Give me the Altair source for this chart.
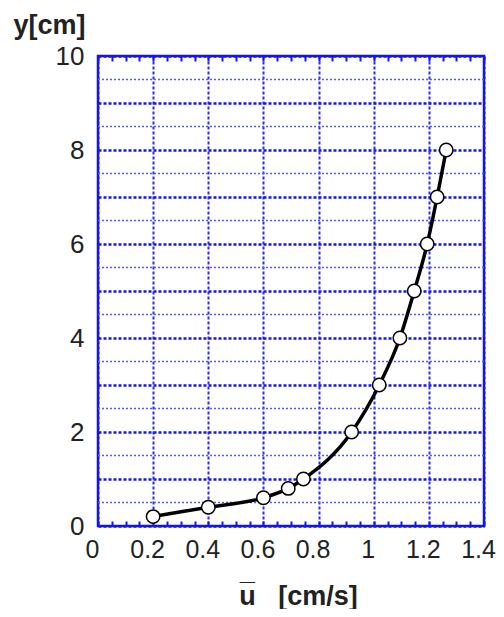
import altair as alt
import pandas as pd

# data
u_vals = [0.20, 0.40, 0.60, 0.69, 0.745, 0.92, 1.02, 1.095, 1.147, 1.194, 1.23, 1.263]
y_vals = [0.2, 0.4, 0.6, 0.8, 1.0, 2.0, 3.0, 4.0, 5.0, 6.0, 7.0, 8.0]

x_major = [0, 0.2, 0.4, 0.6, 0.8, 1.0, 1.2, 1.4]
x_minor = [round(i * 0.05, 2) for i in range(29)]
y_major = [0, 1, 2, 3, 4, 5, 6, 7, 8, 9, 10]
y_half = [0.5, 1.5, 2.5, 3.5, 4.5, 5.5, 6.5, 7.5, 8.5, 9.5]

df = pd.DataFrame({"u": u_vals, "y": y_vals})
half_df = pd.DataFrame({"y": y_half})

BLUE = "#1414f0"
LBLUE = "#5858ff"
FONT = "Liberation Sans"

xs = alt.Scale(domain=[0, 1.4], nice=False, zero=False)
ys = alt.Scale(domain=[0, 10], nice=False, zero=False)

base = alt.Chart(df)

half_grid = alt.Chart(half_df).mark_rule(
    color=LBLUE, strokeWidth=1.6, strokeDash=[2, 2]
).encode(
    y=alt.Y("y:Q", scale=ys, axis=None),
)

line = base.mark_line(color="black", strokeWidth=3.5, interpolate="monotone").encode(
    x=alt.X("u:Q", scale=xs, axis=alt.Axis(
        orient="bottom", values=x_major, format="~g", domain=False, ticks=False,
        grid=True, gridColor=BLUE, gridDash=[3, 2], gridWidth=2, gridOpacity=0.9,
        labelFont=FONT, labelFontSize=25, labelColor="#222", labelPadding=11,
        labelOffset=-6, labelFlush=False, labelOverlap=False,
        title="u\u0305\u00a0\u00a0\u00a0[cm/s]", titleFont=FONT, titleFontSize=27,
        titleFontWeight="bold", titleColor="#222", titleX=200, titleY=78,
        titleAnchor="start", titleAlign="center", titleBaseline="alphabetic")),
    y=alt.Y("y:Q", scale=ys, axis=alt.Axis(
        orient="left", values=y_major, domain=False, ticks=False,
        labelExpr="datum.value % 2 == 0 ? datum.label : ''",
        grid=True, gridColor=BLUE, gridDash=[3, 2], gridWidth=2.5, gridOpacity=1,
        labelFont=FONT, labelFontSize=26, labelColor="#222", labelPadding=14,
        labelFlush=False, labelOverlap=False,
        title="y[cm]", titleFont=FONT, titleFontSize=27, titleFontWeight="bold",
        titleColor="#222", titleAngle=0, titleX=-49, titleY=-23, titleAlign="center",
        titleAnchor="start", titleBaseline="alphabetic")),
    order="y:Q",
)

minor = base.mark_point(opacity=0).encode(
    x=alt.X("u:Q", scale=xs, axis=alt.Axis(
        orient="bottom", values=x_minor, domain=False, ticks=True, tickSize=5,
        tickColor=BLUE, tickWidth=2, offset=-5, labels=False, grid=False, title=None)),
    y=alt.Y("y:Q", scale=ys, axis=None),
)

points = base.mark_point(shape="circle", filled=True, fill="white", stroke="black",
                         strokeWidth=1.5, size=180, opacity=1).encode(
    x=alt.X("u:Q", scale=xs, axis=alt.Axis(
        orient="top", values=x_minor, domain=False, ticks=True, tickSize=5,
        tickColor=BLUE, tickWidth=2, offset=-5, labels=False, grid=False, title=None)),
    y=alt.Y("y:Q", scale=ys, axis=None),
)

chart = alt.layer(half_grid, minor, line, points).resolve_scale(
    x="independent", y="independent"
).properties(
    width=386, height=470,
    autosize=alt.AutoSizeParams(type="none"),
    padding={"left": 90, "top": 48, "right": 12, "bottom": 83},
    background="white",
).configure_view(stroke=BLUE, strokeWidth=2.5)

chart.save("out.html", embed_options={"renderer": "svg", "actions": False})
